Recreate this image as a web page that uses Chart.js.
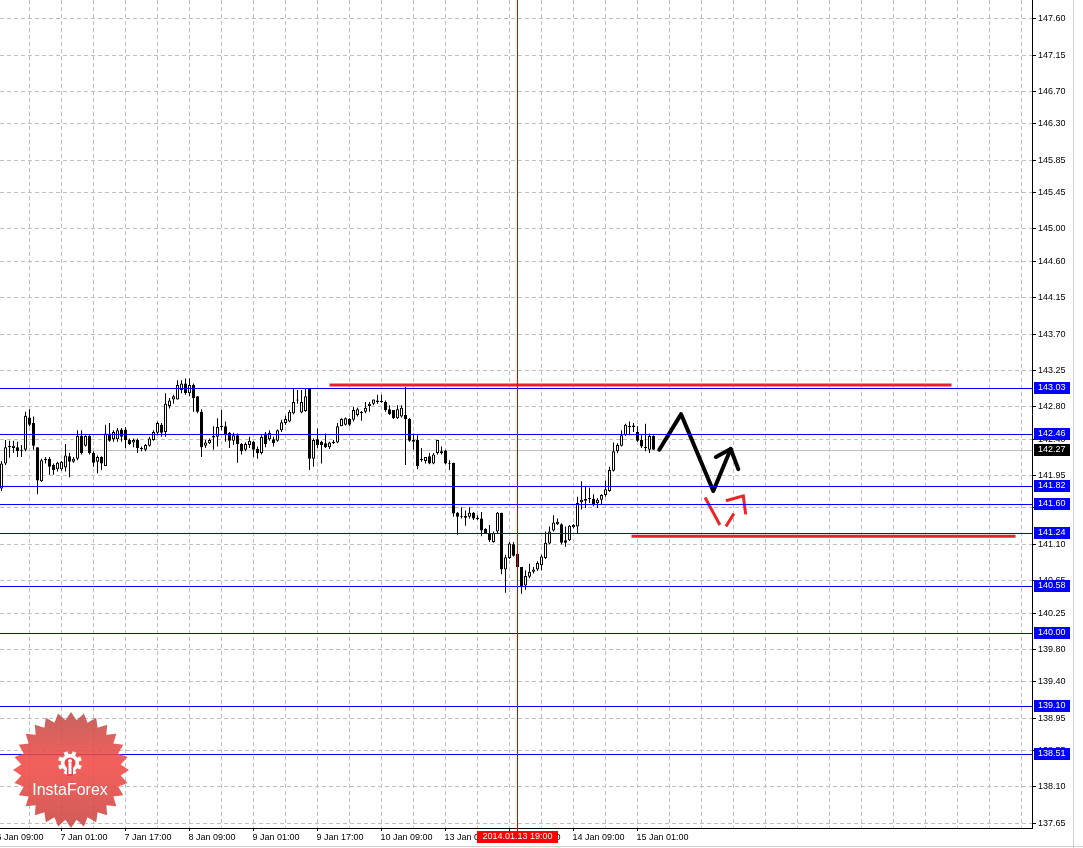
<!DOCTYPE html>
<html>
<head>
<meta charset="utf-8">
<title>USDJPY H1</title>
<script src="https://cdn.jsdelivr.net/npm/chart.js@4.4.1/dist/chart.umd.min.js"></script>
<style>
    html, body { margin: 0; padding: 0; background: #fff; }
    canvas { display: block; }
</style>
</head>
<body>
<canvas id="chart" width="1083" height="848"></canvas>
<script>
// H1 bars, 6 Jan 10:00 .. 15 Jan 05:00 (weekend skipped), bar index = x value
const opens = [
    141.79, 142.10, 142.30, 142.29, 142.30, 142.25, 142.27, 142.67, 142.60, 142.30,
    141.88, 142.14, 142.16, 142.08, 142.03, 142.03, 142.05, 142.19, 142.12, 142.16,
    142.44, 142.32, 142.44, 142.23, 142.12, 142.18, 142.07, 142.47, 142.40, 142.40,
    142.52, 142.52, 142.39, 142.36, 142.39, 142.29, 142.27, 142.32, 142.39, 142.48,
    142.58, 142.49, 142.81, 142.89, 142.89, 143.01, 143.09, 142.97, 143.07, 142.93,
    142.74, 142.32, 142.35, 142.42, 142.43, 142.56, 142.56, 142.48, 142.38, 142.45,
    142.34, 142.27, 142.33, 142.37, 142.28, 142.23, 142.47, 142.40, 142.40, 142.38,
    142.51, 142.60, 142.62, 142.72, 142.89, 142.73, 142.75, 143.03, 142.16, 142.40,
    142.37, 142.35, 142.30, 142.35, 142.36, 142.56, 142.58, 142.65, 142.64, 142.70,
    142.72, 142.74, 142.81, 142.84, 142.88, 142.87, 142.86, 142.77, 142.76, 142.66,
    142.68, 142.70, 142.65, 142.39, 142.39, 142.16, 142.13, 142.19, 142.10, 142.23,
    142.25, 142.26, 142.10, 142.11, 141.49, 141.44, 141.45, 141.44, 141.49, 141.43,
    141.42, 141.29, 141.24, 141.13, 141.26, 141.49, 140.79, 140.93, 141.10, 140.98,
    140.82, 140.59, 140.70, 140.76, 140.79, 140.84, 140.93, 141.11, 141.27, 141.35,
    141.35, 141.15, 141.15, 141.31, 141.32, 141.62, 141.64, 141.66, 141.66, 141.61,
    141.65, 141.71, 141.76, 142.01, 142.25, 142.32, 142.45, 142.56, 142.55, 142.49,
    142.39, 142.30, 142.27, 142.44
];
const highs = [
    142.13, 142.39, 142.38, 142.38, 142.37, 142.33, 142.74, 142.77, 142.68, 142.30,
    142.16, 142.18, 142.18, 142.10, 142.12, 142.13, 142.34, 142.23, 142.18, 142.51,
    142.51, 142.45, 142.45, 142.25, 142.20, 142.19, 142.58, 142.60, 142.51, 142.54,
    142.54, 142.55, 142.41, 142.41, 142.41, 142.31, 142.34, 142.43, 142.51, 142.62,
    142.60, 142.97, 142.91, 142.95, 143.13, 143.13, 143.15, 143.15, 143.09, 142.93,
    142.77, 142.39, 142.41, 142.56, 142.66, 142.76, 142.62, 142.49, 142.48, 142.47,
    142.35, 142.36, 142.43, 142.38, 142.31, 142.45, 142.49, 142.51, 142.43, 142.52,
    142.64, 142.69, 142.76, 143.03, 143.01, 143.01, 143.03, 143.03, 142.41, 142.53,
    142.38, 142.47, 142.37, 142.39, 142.60, 142.66, 142.67, 142.66, 142.80, 142.79,
    142.75, 142.86, 142.86, 142.89, 142.95, 142.95, 142.88, 142.82, 142.76, 142.82,
    142.82, 143.05, 142.66, 142.47, 142.45, 142.29, 142.18, 142.23, 142.23, 142.39,
    142.31, 142.27, 142.14, 142.11, 141.50, 141.56, 141.52, 141.56, 141.50, 141.46,
    141.50, 141.30, 141.34, 141.26, 141.50, 141.49, 140.97, 141.13, 141.13, 141.03,
    140.82, 140.78, 140.86, 140.82, 140.89, 140.97, 141.26, 141.32, 141.46, 141.42,
    141.36, 141.32, 141.34, 141.35, 141.69, 141.88, 141.82, 141.80, 141.72, 141.67,
    141.72, 141.89, 142.06, 142.36, 142.35, 142.51, 142.59, 142.62, 142.60, 142.56,
    142.45, 142.59, 142.47, 142.45
];
const lows = [
    141.76, 142.08, 142.17, 142.23, 142.18, 142.18, 142.25, 142.56, 142.27, 141.72,
    141.87, 142.10, 141.96, 141.96, 142.00, 142.01, 142.00, 141.93, 142.11, 142.14,
    142.21, 142.31, 142.21, 142.06, 141.98, 142.02, 142.07, 142.37, 142.37, 142.37,
    142.37, 142.29, 142.33, 142.30, 142.23, 142.25, 142.25, 142.31, 142.38, 142.45,
    142.43, 142.43, 142.78, 142.84, 142.89, 142.97, 142.95, 142.93, 142.74, 142.72,
    142.18, 142.29, 142.34, 142.27, 142.31, 142.51, 142.37, 142.29, 142.33, 142.11,
    142.21, 142.25, 142.29, 142.18, 142.16, 142.21, 142.30, 142.38, 142.31, 142.37,
    142.49, 142.58, 142.61, 142.71, 142.84, 142.72, 142.74, 142.02, 142.06, 142.29,
    142.10, 142.29, 142.28, 142.34, 142.35, 142.56, 142.57, 142.56, 142.62, 142.68,
    142.63, 142.72, 142.74, 142.82, 142.84, 142.85, 142.74, 142.70, 142.65, 142.65,
    142.67, 142.08, 142.37, 142.27, 142.03, 142.12, 142.10, 142.09, 142.09, 142.21,
    142.21, 142.09, 142.02, 141.44, 141.22, 141.42, 141.33, 141.42, 141.40, 141.40,
    141.20, 141.24, 141.13, 141.12, 141.24, 140.73, 140.50, 140.92, 140.95, 140.80,
    140.49, 140.54, 140.68, 140.74, 140.77, 140.78, 140.92, 141.10, 141.26, 141.34,
    141.10, 141.07, 141.14, 141.30, 141.23, 141.53, 141.55, 141.61, 141.57, 141.55,
    141.60, 141.69, 141.75, 142.00, 142.23, 142.31, 142.44, 142.45, 142.49, 142.37,
    142.29, 142.25, 142.23, 142.27
];
const closes = [
    142.10, 142.30, 142.32, 142.32, 142.25, 142.26, 142.69, 142.58, 142.32, 141.89,
    142.14, 142.16, 142.06, 142.02, 142.11, 142.12, 142.20, 142.12, 142.16, 142.44,
    142.23, 142.44, 142.23, 142.11, 142.18, 142.10, 142.47, 142.38, 142.49, 142.51,
    142.43, 142.39, 142.34, 142.39, 142.29, 142.28, 142.33, 142.41, 142.49, 142.60,
    142.48, 142.84, 142.88, 142.93, 143.07, 143.09, 142.97, 143.07, 142.91, 142.74,
    142.30, 142.36, 142.39, 142.44, 142.55, 142.55, 142.45, 142.38, 142.45, 142.34,
    142.25, 142.34, 142.38, 142.27, 142.23, 142.43, 142.34, 142.48, 142.35, 142.51,
    142.61, 142.65, 142.74, 142.86, 142.88, 142.86, 142.93, 142.16, 142.39, 142.33,
    142.33, 142.30, 142.36, 142.37, 142.56, 142.65, 142.66, 142.58, 142.76, 142.77,
    142.74, 142.79, 142.84, 142.89, 142.86, 142.86, 142.76, 142.71, 142.66, 142.77,
    142.79, 142.65, 142.38, 142.37, 142.07, 142.14, 142.18, 142.10, 142.21, 142.39,
    142.23, 142.10, 142.09, 141.48, 141.44, 141.45, 141.43, 141.49, 141.42, 141.41,
    141.27, 141.24, 141.15, 141.24, 141.49, 140.79, 140.94, 141.11, 140.96, 140.82,
    140.58, 140.71, 140.76, 140.79, 140.87, 140.95, 141.12, 141.26, 141.37, 141.38,
    141.12, 141.12, 141.33, 141.34, 141.61, 141.65, 141.66, 141.66, 141.60, 141.65,
    141.71, 141.78, 142.02, 142.25, 142.33, 142.45, 142.58, 142.55, 142.57, 142.38,
    142.31, 142.29, 142.44, 142.27
];

// time axis: one label every 16 bars, the first one sits on bar -1
const timeLabels = ['6 Jan 09:00', '7 Jan 01:00', '7 Jan 17:00', '8 Jan 09:00', '9 Jan 01:00',
    '9 Jan 17:00', '10 Jan 09:00', '13 Jan 01:00', '13 Jan 17:00', '14 Jan 09:00', '15 Jan 01:00'];
const priceTicks = [147.60, 147.15, 146.70, 146.30, 145.85, 145.45, 145.00, 144.60, 144.15, 143.70,
    143.25, 142.80, 142.40, 141.95, 141.55, 141.10, 140.65, 140.25, 139.80, 139.40, 138.95, 138.55,
    138.10, 137.65];

// horizontal levels
const blueLevels = [143.03, 142.46, 141.82, 141.60, 141.24, 140.58, 140.00, 139.10, 138.51];
const bidPrice = 142.27;
const redLevels = [[82, 237.5, 143.07], [157.5, 253.5, 141.20]];   // [from bar, to bar, price]

// hand drawn forecast arrows, [bar, price]
const blackPath = [[164.45, 142.27], [169.9, 142.71], [177.95, 141.76], [182.3, 142.28], [184.2, 142.03]];
const blackBarb = [[178.6, 142.18], [182.3, 142.28]];
const redArrow = [[175.9, 141.68], [179.6, 141.34], null, [181.1, 141.32], [183.1, 141.48], null,
    [181.1, 141.64], [185.45, 141.70], [186.05, 141.47]];

// crosshair
const crossBar = 129;
const crossLabel = '2014.01.13 19:00';

// visible range
const xMin = -0.375, xMax = 257.625;
const yMin = 137.592, yMax = 147.832;

const FONT = "'Liberation Sans', Arial, sans-serif";
Chart.defaults.font.family = FONT;
Chart.defaults.font.size = 9;
Chart.defaults.color = '#000';

function labelAt(v) {
    const k = (v + 1) / 16;
    return Number.isInteger(k) && k < timeLabels.length ? timeLabels[k] : '';
}

function toXY(points) {
    let last = 0;
    return points.map(p => {
        if (!p) return { x: last, y: null };
        last = p[0];
        return { x: p[0], y: p[1] };
    });
}

// no extra room for half labels, the plot goes edge to edge
function noPadding(s) {
    s.paddingTop = 0;
    s.paddingBottom = 0;
    s.paddingLeft = 0;
    s.paddingRight = 0;
}

const gridBars = [];
for (let b = -1; b <= xMax; b += 8) gridBars.push(b);

const bodies = opens.map((o, i) => ({ x: i, y: [o, closes[i]] }));
const wicks = highs.map((h, i) => ({ x: i, y: [lows[i], h] }));

const datasets = [
    {
        type: 'line', data: toXY(blackPath), borderColor: '#000', borderWidth: 4,
        pointRadius: 0, tension: 0, borderCapStyle: 'round', borderJoinStyle: 'round', order: 0
    },
    {
        type: 'line', data: toXY(blackBarb), borderColor: '#000', borderWidth: 4,
        pointRadius: 0, tension: 0, borderCapStyle: 'round', order: 0
    },
    {
        type: 'line', data: toXY(redArrow), borderColor: '#ee2424', borderWidth: 3,
        pointRadius: 0, tension: 0, spanGaps: false, borderCapStyle: 'butt', order: 0
    }
];
redLevels.forEach(r => {
    datasets.push({
        type: 'line', data: [{ x: r[0], y: r[2] }, { x: r[1], y: r[2] }],
        borderColor: '#e8202a', borderWidth: 3, pointRadius: 0, order: 1
    });
});
datasets.push({
    type: 'bar', data: bodies, grouped: false, barThickness: 3, minBarLength: 1,
    backgroundColor: c => closes[c.dataIndex] >= opens[c.dataIndex] ? '#fff' : '#000',
    borderColor: '#000', borderWidth: 1, borderSkipped: false, inflateAmount: 0, order: 4
});
datasets.push({
    type: 'bar', data: wicks, grouped: false, barThickness: 1,
    backgroundColor: '#000', borderWidth: 0, inflateAmount: 0, order: 5
});

// background, levels, crosshair, price tags, logo
const decorations = {
    id: 'decorations',
    beforeDraw(chart) {
        const ctx = chart.ctx;
        ctx.save();
        ctx.fillStyle = '#fff';
        ctx.fillRect(0, 0, chart.width, chart.height);
        ctx.restore();
    },
    beforeDatasetsDraw(chart) {
        const { ctx, chartArea: a, scales: { y } } = chart;
        ctx.save();
        ctx.lineWidth = 1;
        const py = Math.round(y.getPixelForValue(bidPrice)) + 0.5;
        ctx.strokeStyle = '#c0c0c0';
        ctx.beginPath();
        ctx.moveTo(a.left, py);
        ctx.lineTo(a.right, py);
        ctx.stroke();
        ctx.restore();
    },
    afterDatasetsDraw(chart) {
        const { ctx, chartArea: a, scales: { x, y } } = chart;
        ctx.save();
        ctx.lineWidth = 1;
        blueLevels.forEach(v => {
            const py = Math.round(y.getPixelForValue(v)) + 0.5;
            ctx.strokeStyle = '#0000ff';
            ctx.beginPath();
            ctx.moveTo(a.left, py);
            ctx.lineTo(a.right, py);
            ctx.stroke();
        });
        // crosshair
        const cx = Math.floor(x.getPixelForValue(crossBar)) + 0.5;
        ctx.strokeStyle = '#e00000';
        ctx.beginPath();
        ctx.moveTo(cx, a.top);
        ctx.lineTo(cx, a.bottom + 4);
        ctx.stroke();
        ctx.restore();
        drawLogo(ctx);
    },
    afterDraw(chart) {
        const { ctx, chartArea: a, scales: { x, y } } = chart;
        ctx.save();
        ctx.font = '9px ' + FONT;
        ctx.textBaseline = 'middle';
        const tag = (v, bg) => {
            const py = Math.round(y.getPixelForValue(v));
            ctx.fillStyle = bg;
            ctx.fillRect(a.right + 2, py - 6, 36, 12);
            ctx.fillStyle = '#fff';
            ctx.textAlign = 'left';
            ctx.fillText(v.toFixed(2), a.right + 6, py);
        };
        blueLevels.forEach(v => tag(v, '#0000ff'));
        tag(bidPrice, '#000');

        // crosshair time tag
        const cx = x.getPixelForValue(crossBar);
        ctx.fillStyle = '#ff0000';
        ctx.fillRect(Math.round(cx) - 41, a.bottom + 3, 81, 12);
        ctx.fillStyle = '#fff';
        ctx.textAlign = 'center';
        ctx.fillText(crossLabel, cx, a.bottom + 9);

        // window frame
        ctx.strokeStyle = '#d0d0d0';
        ctx.lineWidth = 1;
        ctx.beginPath();
        ctx.moveTo(1073.5, 0);
        ctx.lineTo(1073.5, chart.height);
        ctx.moveTo(0, chart.height - 1.5);
        ctx.lineTo(chart.width, chart.height - 1.5);
        ctx.stroke();
        ctx.restore();
    }
};

function drawLogo(ctx) {
    const cx = 71, cy = 770, R = 58, r = 50, n = 28;
    ctx.save();
    ctx.globalAlpha = 0.88;
    const g = ctx.createLinearGradient(0, cy - R, 0, cy + R);
    g.addColorStop(0, '#bf4d4a');
    g.addColorStop(0.45, '#f24a45');
    g.addColorStop(1, '#c84642');
    ctx.fillStyle = g;
    ctx.beginPath();
    for (let k = 0; k < n * 2; k++) {
        const ang = -Math.PI / 2 + k * Math.PI / n;
        const rad = k % 2 ? r : R;
        ctx.lineTo(cx + rad * Math.cos(ang), cy + rad * Math.sin(ang));
    }
    ctx.closePath();
    ctx.fill();
    ctx.globalAlpha = 1;

    // gear with a figure inside
    const gx = cx - 1, gy = cy - 7;
    ctx.fillStyle = '#fff';
    ctx.beginPath();
    ctx.arc(gx, gy, 9, 0, Math.PI * 2);
    ctx.fill();
    for (let k = 0; k < 8; k++) {
        ctx.save();
        ctx.translate(gx, gy);
        ctx.rotate(k * Math.PI / 4 + Math.PI / 8);
        ctx.fillRect(-2, -12, 4, 4);
        ctx.restore();
    }
    ctx.fillStyle = '#ec4843';
    ctx.beginPath();
    ctx.arc(gx, gy, 5.5, 0, Math.PI * 2);
    ctx.fill();
    ctx.fillRect(gx - 3, gy, 6, 13);
    ctx.fillStyle = '#fff';
    ctx.beginPath();
    ctx.arc(gx, gy - 2, 2, 0, Math.PI * 2);
    ctx.fill();
    ctx.fillRect(gx - 1.5, gy, 3, 11);

    ctx.font = '16px ' + FONT;
    ctx.textAlign = 'center';
    ctx.textBaseline = 'middle';
    ctx.fillText('InstaForex', cx - 1, cy + 21);
    ctx.restore();
}

new Chart(document.getElementById('chart'), {
    type: 'bar',
    data: { datasets: datasets },
    options: {
        responsive: false,
        animation: false,
        devicePixelRatio: 1,
        layout: { padding: 0, autoPadding: false },
        plugins: { legend: { display: false }, tooltip: { enabled: false } },
        scales: {
            x: {
                type: 'linear', min: xMin, max: xMax, offset: false, bounds: 'data',
                afterBuildTicks: s => { s.ticks = gridBars.map(v => ({ value: v })); },
                afterFit: s => { s.height = 20; noPadding(s); },
                grid: {
                    offset: false, color: '#c0c0c0', tickLength: 3,
                    tickColor: c => labelAt(c.tick.value) ? '#000' : 'rgba(0,0,0,0)'
                },
                border: { color: '#000', dash: [4, 3] },
                ticks: {
                    autoSkip: false, maxRotation: 0, minRotation: 0, align: 'start',
                    padding: 1, labelOffset: -1, callback: v => labelAt(v)
                }
            },
            y: {
                type: 'linear', position: 'right', min: yMin, max: yMax, bounds: 'data',
                afterBuildTicks: s => { s.ticks = priceTicks.map(v => ({ value: v })); },
                afterFit: s => { s.width = 51; noPadding(s); },
                grid: { color: '#c0c0c0', tickLength: 4, tickColor: '#000' },
                border: { color: '#000', dash: [4, 3] },
                ticks: { padding: 2, callback: v => v.toFixed(2) }
            }
        }
    },
    plugins: [decorations]
});
</script>
</body>
</html>
